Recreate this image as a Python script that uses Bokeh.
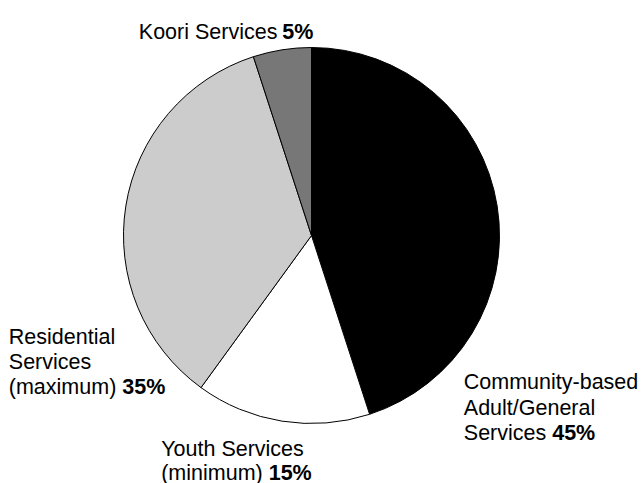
import numpy as np
from bokeh.plotting import figure
from bokeh.models import Range1d, ColumnDataSource
from bokeh.core.properties import value
from bokeh.embed import file_html
from bokeh.resources import INLINE

# ---- data ----
categories = ["Community-based Adult/General Services", "Youth Services (minimum)",
              "Residential Services (maximum)", "Koori Services"]
shares = [45, 15, 35, 5]
pct_labels = ["45%", "15%", "35%", "5%"]
label_lines = [
    ["Community-based", "Adult/General", "Services "],
    ["Youth Services", "(minimum) "],
    ["Residential", "Services", "(maximum) "],
    ["Koori Services "],
]
colors = ["#000000", "#ffffff", "#cccccc", "#777777"]

# ---- layout ----
W, H = 642, 483
cx, cy, R = 311, H - 235, 188
FONT = value("Liberation Sans")
FS = "21.5px"
LINE = 25.3
# label anchors: (left x, first baseline y in screen px, x where bold % starts)
anchors = [
    (463.3, 381.7, 551.7),
    (160.7, 448.5, 268.2),
    (8.3, 336.0, 121.8),
    (138.3, 31.7, 281.7),
]
line_steps = [LINE, 23.5, LINE, LINE]

p = figure(width=W, height=H, x_range=Range1d(0, W), y_range=Range1d(0, H),
           output_backend="svg", toolbar_location=None, min_border=0)
p.axis.visible = False
p.grid.visible = False
p.outline_line_color = None
p.background_fill_color = "white"

frac = np.array(shares, dtype=float) / sum(shares)
cum = np.concatenate([[0], np.cumsum(frac)])
start = np.pi / 2 - 2 * np.pi * cum[:-1]
end = np.pi / 2 - 2 * np.pi * cum[1:]
src = ColumnDataSource(dict(start=start, end=end, color=colors))
p.wedge(x=cx, y=cy, radius=R, start_angle="start", end_angle="end",
        direction="clock", fill_color="color", line_color="black",
        line_width=1, source=src)

for lines, pct, (lx, ly, bx), step in zip(label_lines, pct_labels, anchors, line_steps):
    n = len(lines)
    xs = [lx] * n
    ys = [H - (ly + i * step) for i in range(n)]
    p.text(x=xs, y=ys, text=lines, text_font=FONT, text_font_size=FS,
           text_baseline="alphabetic", text_align="left", text_color="black")
    p.text(x=[bx], y=[ys[-1]], text=[pct], text_font=FONT, text_font_size=FS,
           text_font_style="bold", text_baseline="alphabetic", text_align="left",
           text_color="black")

open("out.html", "w").write(file_html(p, INLINE))
